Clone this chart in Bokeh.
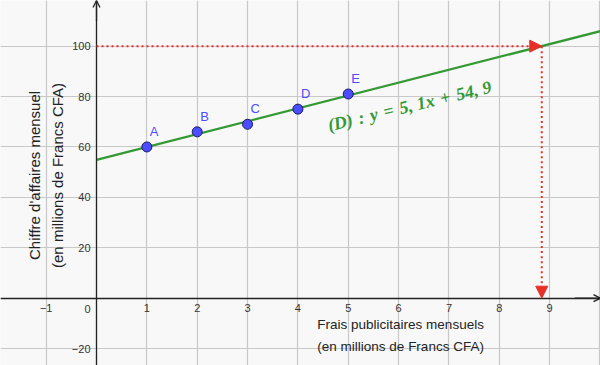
from bokeh.plotting import figure
from bokeh.models import (Range1d, LinearAxis, FixedTicker, Arrow, NormalHead, OpenHead,
                          ColumnDataSource, Label, CustomJSTickFormatter, Grid)
from bokeh.embed import file_html
from bokeh.resources import INLINE
from bokeh.core.properties import value

# Data
names = ["A", "B", "C", "D", "E"]
frais = [1, 2, 3, 4, 5]
chiffre = [60, 66, 69, 75, 81]
slope = 5.1
intercept = 54.9
target_y = 100
x_ticks = [-1, 1, 2, 3, 4, 5, 6, 7, 8, 9]
y_ticks = [-20, 20, 40, 60, 80, 100]
eq_label = "(D)\u2004:\u2004y\u2004=\u20045,\u00a01x\u2004+\u200454,\u00a09"

x_min, x_max = -1.907, 10.01
y_min, y_max = -26.7, 118.1
x_hit = (target_y - intercept) / slope

p = figure(width=600, height=365, output_backend="svg", toolbar_location=None,
           x_range=Range1d(x_min, x_max), y_range=Range1d(y_min, y_max),
           min_border=0, min_border_left=0, min_border_right=0,
           min_border_top=0, min_border_bottom=0,
           x_axis_type=None, y_axis_type=None)
p.outline_line_color = None
p.background_fill_color = "#f8f8f8"
p.border_fill_color = "#f8f8f8"

# grid
p.xgrid.visible = False
p.ygrid.visible = False
xt = FixedTicker(ticks=[-1, 0, 1, 2, 3, 4, 5, 6, 7, 8, 9, 10])
yt = FixedTicker(ticks=[-20, 0, 20, 40, 60, 80, 100])
p.add_layout(Grid(dimension=0, ticker=xt, grid_line_color="#c8c8c8", grid_line_width=1.2))
p.add_layout(Grid(dimension=1, ticker=yt, grid_line_color="#c8c8c8", grid_line_width=1.2))

# axes at zero
xa = LinearAxis(ticker=FixedTicker(ticks=x_ticks), fixed_location=0)
ya = LinearAxis(ticker=FixedTicker(ticks=y_ticks), fixed_location=0)
fmt = CustomJSTickFormatter(code="return tick < 0 ? '\u2212' + Math.abs(tick) : '' + tick;")
for ax in (xa, ya):
    ax.formatter = fmt
    ax.axis_line_color = "#222222"
    ax.axis_line_width = 1.3
    ax.major_tick_line_color = None
    ax.major_tick_in = 0
    ax.major_tick_out = 0
    ax.minor_tick_line_color = None
    ax.major_label_text_font = "Liberation Sans"
    ax.major_label_text_font_size = "11px"
    ax.major_label_text_color = "#333333"
    ax.major_label_standoff = 6
p.add_layout(xa, "below")
p.add_layout(ya, "left")

# origin label
p.add_layout(Label(x=0, y=0, text="0", x_offset=-6, y_offset=-7, text_align="right",
                   text_baseline="top", text_font="Liberation Sans", text_font_size="11px",
                   text_color="#333333"))

# axis arrows
p.add_layout(Arrow(x_start=0, y_start=110, x_end=0, y_end=y_max, line_color="#222222",
                   line_width=1.3, end=OpenHead(size=7, line_color="#222222", line_width=1.3)))
p.add_layout(Arrow(x_start=9.5, y_start=0, x_end=x_max, y_end=0, line_color="#222222",
                   line_width=1.3, end=OpenHead(size=7, line_color="#222222", line_width=1.3)))

# regression line (drawn from the y axis)
xs = [0, x_max]
p.line(xs, [slope * v + intercept for v in xs], line_color="#339933", line_width=2.2)

# red dotted arrows
red = "#e8302a"
p.add_layout(Arrow(x_start=0, y_start=target_y, x_end=x_hit, y_end=target_y,
                   line_color=red, line_width=2, line_dash="2 3",
                   end=NormalHead(size=12, fill_color=red, line_color=red)))
p.add_layout(Arrow(x_start=x_hit, y_start=target_y, x_end=x_hit, y_end=0,
                   line_color=red, line_width=2, line_dash="2 3",
                   end=NormalHead(size=12, fill_color=red, line_color=red)))

# points
src = ColumnDataSource(dict(x=frais, y=chiffre, name=names))
p.scatter("x", "y", source=src, size=10, fill_color="#4d4dff", line_color="#1a1a66",
          line_width=1)
p.text("x", "y", text="name", source=src, x_offset=3, y_offset=-8,
       text_font=value("Liberation Sans"), text_font_size="13px", text_color="#4d4dff",
       text_baseline="bottom")

# equation
p.text([4.6], [68.5], text=[eq_label], angle=0.235,
       text_font=value("Liberation Serif"), text_font_style="bold italic",
       text_font_size="18px", text_color="#339933", text_baseline="alphabetic")

# axis titles
p.text([6.04], [-14.8], text=["Frais publicitaires mensuels\n(en millions de Francs CFA)"],
       text_font=value("Liberation Sans"), text_font_size="13.5px", text_color="#222222",
       text_align="center", text_baseline="middle", text_line_height=1.5)
p.text([-1.0], [48.7], text=["Chiffre d'affaires mensuel\n(en millions de Francs CFA)"],
       angle=1.5708,
       text_font=value("Liberation Sans"), text_font_size="15px", text_color="#222222",
       text_align="center", text_baseline="middle", text_line_height=1.35)

open("out.html", "w").write(file_html(p, INLINE))
